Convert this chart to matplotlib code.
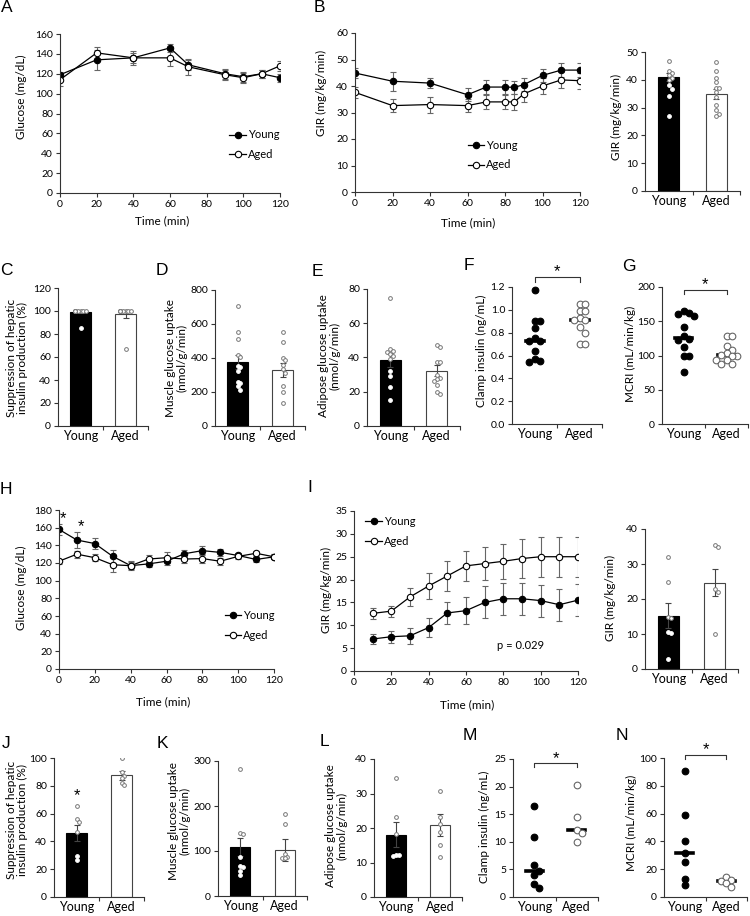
import numpy as np
import matplotlib.pyplot as plt
from matplotlib.lines import Line2D
from matplotlib.ticker import FormatStrFormatter

plt.rcParams['font.family'] = ['Lato', 'DejaVu Sans']
plt.rcParams['axes.linewidth'] = 0.8
plt.rcParams['xtick.labelsize'] = 7.5
plt.rcParams['ytick.labelsize'] = 7.5

# ---- data ----
groups = ['Young', 'Aged']

# A: glucose during clamp (aged vs young, model 1)
a_time = [0, 20, 40, 60, 70, 90, 100, 110, 120]
a_young = [119, 134, 136, 146, 129, 120, 117, 120, 116]
a_young_err = [3, 10, 5, 4, 5, 5, 5, 4, 4]
a_aged = [114, 141, 136, 136, 127, 119, 116, 120, 128]
a_aged_err = [6, 6, 7, 8, 8, 5, 5, 4, 5]

# B: GIR time course + mean
b_time = [0, 20, 40, 60, 70, 80, 85, 90, 100, 110, 120]
b_young = [44.9, 41.8, 41.1, 36.7, 39.6, 39.6, 39.5, 40.5, 44.0, 46.0, 46.0]
b_young_err = [2, 3.5, 2, 2.5, 2.5, 2.5, 2.5, 2.5, 2.5, 2.5, 2.5]
b_aged = [37.6, 32.6, 33.0, 32.6, 34.0, 34.0, 34.0, 37.0, 40.0, 42.3, 42.0]
b_aged_err = [2, 2.5, 3, 2.5, 2.5, 2.5, 3, 3, 3, 3, 3]
b_mean = [41, 35]
b_sem = [1.5, 1.8]
b_young_pts = [46.9, 43.3, 42.4, 41.8, 40.6, 40.0, 38.2, 36.8, 34.0, 26.8]
b_aged_pts = [46.4, 43.0, 40.6, 39.1, 37.0, 37.0, 35.5, 33.7, 30.8, 29.2, 27.8, 27.0]

# C: suppression of hepatic insulin production
c_mean = [99, 97]
c_sem = [1, 3.5]
c_young_pts = [100, 100, 100, 100, 100, 100, 100, 100, 100, 85]
c_aged_pts = [100, 100, 100, 100, 100, 100, 100, 100, 100, 67]

# D: muscle glucose uptake
d_mean = [375, 330]
d_sem = [40, 40]
d_young_pts = [705, 553, 512, 417, 405, 353, 347, 323, 259, 253, 235, 212]
d_aged_pts = [553, 494, 400, 388, 359, 335, 312, 235, 200, 135]

# E: adipose glucose uptake
e_mean = [38.5, 32.3]
e_sem = [4, 3.2]
e_young_pts = [75, 45, 44, 43, 42, 41, 39, 32, 29, 23, 15]
e_aged_pts = [47.4, 46, 37.2, 37.2, 30, 28, 27.5, 26, 24.2, 20, 18.8]

# F: clamp insulin
f_young = [1.17, 0.90, 0.90, 0.84, 0.75, 0.73, 0.73, 0.64, 0.57, 0.55, 0.54]
f_aged = [1.05, 1.05, 0.99, 0.99, 0.93, 0.91, 0.91, 0.85, 0.80, 0.70, 0.70]

# G: MCRI
g_young = [165, 162, 160, 158, 141, 128, 124, 123, 112, 100, 99, 76]
g_aged = [128, 128, 114, 108, 104, 101, 100, 99, 93, 93, 87, 87]

# H: glucose during clamp (model 2)
h_time = [0, 10, 20, 30, 40, 50, 60, 70, 80, 90, 100, 110, 120]
h_young = [158, 146, 142, 127.5, 117, 119, 122, 130.5, 134, 132, 128.5, 124, 127]
h_young_err = [6, 9, 6, 7, 4, 4, 4, 4, 5, 4, 3, 3, 3]
h_aged = [122, 130, 126, 118, 117, 124.5, 126, 124.5, 125, 122, 127.5, 131, 127]
h_aged_err = [3, 4, 4, 8, 5, 4, 6, 5, 5, 4, 3, 3, 3]
h_star_time = [0, 10]
h_star_y = [170, 161]

# I: GIR time course + mean
i_time = [10, 20, 30, 40, 50, 60, 70, 80, 90, 100, 110, 120]
i_young = [7.0, 7.5, 7.7, 9.5, 12.7, 13.2, 15.0, 15.8, 15.8, 15.4, 14.5, 15.5]
i_young_err = [1.0, 1.3, 1.7, 2.0, 2.5, 3.0, 3.5, 3.5, 3.5, 3.5, 3.5, 3.5]
i_aged = [12.6, 13.1, 16.2, 18.6, 20.8, 23.0, 23.5, 24.0, 24.6, 25.0, 25.0, 25.0]
i_aged_err = [1.2, 1.2, 2.0, 2.8, 3.3, 3.3, 3.7, 3.8, 4.2, 4.4, 4.4, 4.4]
i_mean = [15.2, 24.7]
i_sem = [3.6, 3.8]
i_young_pts = [32, 25, 15, 14.5, 10.5, 10.3, 3]
i_aged_pts = [35.5, 35, 23, 22, 10]

# J-N
j_mean = [46, 87.5]
j_sem = [5.5, 3.3]
j_young_pts = [65.5, 56, 54, 46.5, 29.6, 26.5]
j_aged_pts = [100, 89.6, 86.7, 85.5, 81.9, 80.7]

k_mean = [109, 102]
k_sem = [19, 24]
k_young_pts = [283, 141, 137, 87, 66.5, 65, 56, 46.5]
k_aged_pts = [182, 161, 93, 87, 85, 83.5]

l_mean = [18.1, 21.0]
l_sem = [3.5, 3.2]
l_young_pts = [34.4, 23.2, 18.2, 12.1, 12.1, 11.8]
l_aged_pts = [30.8, 23.2, 21.3, 18.7, 15.0, 11.6]

m_young = [16.5, 10.9, 5.8, 4.7, 3.9, 2.3, 1.6]
m_aged = [20.2, 14.5, 12.1, 11.6, 10.0]

n_young = [91, 59, 40, 32, 25, 13, 8.5]
n_aged = [14.5, 12.5, 11.5, 10, 7.5]

# ---- layout helpers (pixel coordinates of the 750x916 figure) ----
W, H = 750, 916
fig = plt.figure(figsize=(W / 100, H / 100), dpi=100)
AX_COL = '#333333'
LAB = 8.5


def px_axes(l, t, r, b):
    ax = fig.add_axes([l / W, 1 - b / H, (r - l) / W, (b - t) / H])
    ax.spines['top'].set_visible(False)
    ax.spines['right'].set_visible(False)
    ax.spines['left'].set_color(AX_COL)
    ax.spines['bottom'].set_color(AX_COL)
    ax.tick_params(length=3, width=0.8, color=AX_COL, pad=2)
    return ax


def fig_text(x, y, s, **kw):
    fig.text(x / W, 1 - y / H, s, **kw)


def letter(x, y, s):
    fig_text(x, y, s, fontsize=12.5, family='Liberation Sans', ha='center', va='center')


def ylab(x, y, s):
    fig_text(x, y, s, fontsize=LAB, rotation=90, ha='center', va='center',
             linespacing=1.1, multialignment='center')


def star(ax, x, y, transform=None):
    kw = {} if transform is None else {'transform': transform}
    ax.text(x, y, '*', ha='center', va='center', fontsize=12,
            family='Liberation Sans', **kw)


def swarm(vals, dx, tol, maxk=3):
    placed, offs = [], []
    for v in vals:
        o = 0.0
        for k in [0, 1, -1, 2, -2, 3, -3][:2 * maxk + 1]:
            o = k * dx
            if all(abs(o - po) >= dx * 0.95 or abs(v - pv) >= tol for po, pv in placed):
                break
        placed.append((o, v))
        offs.append(o)
    return np.array(offs)


def cat_axis(ax, ymax, step, fmt='%d'):
    ax.set_xlim(-0.5, 1.5)
    ax.set_ylim(0, ymax)
    ax.set_yticks(np.arange(0, ymax + step / 2, step))
    ax.yaxis.set_major_formatter(FormatStrFormatter(fmt))
    ax.set_xticks([0, 1], groups, fontsize=9)
    ax.tick_params(axis='x', which='major', length=0, pad=3)
    ax.set_xticks([0.5, 1.5], minor=True)
    ax.tick_params(axis='x', which='minor', length=3, width=0.8, color=AX_COL)


def bar_panel(ax, means, sems, young_pts, aged_pts, ymax, step):
    ax.bar([0, 1], means, width=0.45, color=['black', 'white'],
           edgecolor=['black', '#444444'], lw=0.8, zorder=2)
    ax.errorbar([0, 1], means, yerr=sems, fmt='none', ecolor='#444444',
                elinewidth=0.8, capsize=2.5, capthick=0.8, zorder=3)
    for i, pts in enumerate((young_pts, aged_pts)):
        offs = swarm(pts, 0.06, 0.03 * ymax, maxk=2)
        for v, o in zip(pts, offs):
            inside = i == 0 and v < means[0] - 0.02 * ymax
            ax.plot(i + o, v, 'o', ms=2.7, mfc='white',
                    mec='white' if inside else '#777777', mew=0.7, zorder=4)
    cat_axis(ax, ymax, step)


def scatter_panel(ax, young, aged, ymax, step, fmt='%d'):
    for i, pts in enumerate((young, aged)):
        offs = swarm(pts, 0.12, 0.045 * ymax)
        face = 'black' if i == 0 else 'white'
        edge = 'black' if i == 0 else '#666666'
        ax.plot([i - 0.2, i + 0.2], [np.median(pts)] * 2, color='black', lw=2.6, zorder=2)
        ax.plot(i + offs, pts, 'o', ls='none', ms=4.8, mfc=face, mec=edge, mew=0.8,
                zorder=3, clip_on=False)
    cat_axis(ax, ymax, step, fmt)


def bracket(ax, y, drop, star_y):
    tr = ax.get_xaxis_transform()
    ax.plot([0, 0, 1, 1], [y - drop, y, y, y - drop], color=AX_COL, lw=0.8,
            transform=tr, clip_on=False)
    star(ax, 0.5, star_y, tr)


def time_panel(ax, t_y, young, young_err, t_a, aged, aged_err, ymax, ystep):
    for t, vals, errs, face in ((t_y, young, young_err, 'black'),
                                (t_a, aged, aged_err, 'white')):
        ax.errorbar(t, vals, yerr=errs, color='black', lw=0.9, marker='o', ms=4.6,
                    mfc=face, mec='black', mew=0.8, ecolor='#666666',
                    elinewidth=0.8, capsize=2.5, capthick=0.8)
    ax.set_xlim(0, 120)
    ax.set_ylim(0, ymax)
    ax.set_xticks(np.arange(0, 121, 20))
    ax.set_yticks(np.arange(0, ymax + ystep / 2, ystep))


def legend(ax, x, y):
    handles = [Line2D([], [], color='black', lw=0.9, marker='o', ms=4.6, mfc=f,
                      mec='black', mew=0.8) for f in ('black', 'white')]
    ax.legend(handles, groups, loc='upper left', bbox_to_anchor=(x, y), frameon=False,
              fontsize=8, handlelength=1.5, handletextpad=0.2, labelspacing=0.8,
              borderaxespad=0, borderpad=0)


# ---- row 1 ----
ax = px_axes(60, 34, 280, 193)
time_panel(ax, a_time, a_young, a_young_err, a_time, a_aged, a_aged_err, 160, 20)
legend(ax, 0.77, 0.40)
letter(7, 8, 'A')
ylab(21, 97, 'Glucose (mg/dL)')
fig_text(162, 221, 'Time (min)', fontsize=LAB, ha='center', va='center')

ax = px_axes(355, 33, 580, 192)
time_panel(ax, b_time, b_young, b_young_err, b_time, b_aged, b_aged_err, 60, 10)
legend(ax, 0.50, 0.33)
letter(319, 8, 'B')
ylab(321, 93, 'GIR (mg/kg/min)')
fig_text(468, 223, 'Time (min)', fontsize=LAB, ha='center', va='center')

ax = px_axes(645, 52, 740, 191)
bar_panel(ax, b_mean, b_sem, b_young_pts, b_aged_pts, 50, 10)
ylab(616, 117, 'GIR (mg/kg/min)')

# ---- row 2 ----
ax = px_axes(58, 288, 148, 426)
bar_panel(ax, c_mean, c_sem, c_young_pts, c_aged_pts, 120, 20)
letter(6, 270, 'C')
ylab(17, 358, 'Suppression of hepatic\ninsulin production (%)')

ax = px_axes(215, 290, 305, 426)
bar_panel(ax, d_mean, d_sem, d_young_pts, d_aged_pts, 800, 200)
letter(162, 270, 'D')
ylab(176, 358, 'Muscle glucose uptake\n(nmol/g/min)')

ax = px_axes(367, 289, 460, 426)
bar_panel(ax, e_mean, e_sem, e_young_pts, e_aged_pts, 80, 20)
letter(317, 272, 'E')
ylab(329, 356, 'Adipose glucose uptake\n(nmol/g/min)')

ax = px_axes(512, 287, 602, 424)
scatter_panel(ax, f_young, f_aged, 1.2, 0.2, '%.1f')
bracket(ax, 1.07, 0.035, 1.11)
letter(469, 265, 'F')
ylab(481, 351, 'Clamp insulin (ng/mL)')

ax = px_axes(662, 287, 748, 424)
scatter_panel(ax, g_young, g_aged, 200, 50)
bracket(ax, 0.98, 0.03, 1.02)
letter(629, 267, 'G')
ylab(630, 354, 'MCRI (mL/min/kg)')

# ---- row 3 ----
ax = px_axes(59, 510, 274, 669)
time_panel(ax, h_time, h_young, h_young_err, h_time, h_aged, h_aged_err, 180, 20)
for t, y in zip(h_star_time, h_star_y):
    star(ax, t + 2, y)
legend(ax, 0.77, 0.37)
letter(6, 489, 'H')
ylab(21, 588, 'Glucose (mg/dL)')
fig_text(163, 702, 'Time (min)', fontsize=LAB, ha='center', va='center')

ax = px_axes(354, 511, 578, 671)
time_panel(ax, i_time, i_young, i_young_err, i_time, i_aged, i_aged_err, 35, 5)
ax.text(89, 5.5, 'p = 0.029', ha='center', va='center', fontsize=8)
legend(ax, 0.05, 0.97)
letter(310, 488, 'I')
ylab(326, 590, 'GIR (mg/kg/min)')
fig_text(467, 705, 'Time (min)', fontsize=LAB, ha='center', va='center')

ax = px_axes(645, 529, 738, 669)
bar_panel(ax, i_mean, i_sem, i_young_pts, i_aged_pts, 40, 10)
ylab(610, 598, 'GIR (mg/kg/min)')

# ---- row 4 ----
ax = px_axes(54, 758, 144, 897)
bar_panel(ax, j_mean, j_sem, j_young_pts, j_aged_pts, 100, 20)
star(ax, 0, 73)
letter(6, 744, 'J')
ylab(17, 820, 'Suppression of hepatic\ninsulin production (%)')

ax = px_axes(218, 761, 307, 896)
bar_panel(ax, k_mean, k_sem, k_young_pts, k_aged_pts, 300, 100)
letter(162, 744, 'K')
ylab(179, 821, 'Muscle glucose uptake\n(nmol/g/min)')

ax = px_axes(374, 759, 462, 897)
bar_panel(ax, l_mean, l_sem, l_young_pts, l_aged_pts, 40, 10)
letter(324, 742, 'L')
ylab(336, 826, 'Adipose glucose uptake\n(nmol/g/min)')

ax = px_axes(513, 759, 598, 897)
scatter_panel(ax, m_young, m_aged, 25, 5)
bracket(ax, 0.97, 0.03, 1.0)
letter(470, 736, 'M')
ylab(484, 827, 'Clamp insulin (ng/mL)')

ax = px_axes(664, 758, 747, 897)
scatter_panel(ax, n_young, n_aged, 100, 20)
bracket(ax, 1.02, 0.03, 1.06)
letter(622, 735, 'N')
ylab(631, 823, 'MCRI (mL/min/kg)')

fig.savefig('out.png', dpi=100)
